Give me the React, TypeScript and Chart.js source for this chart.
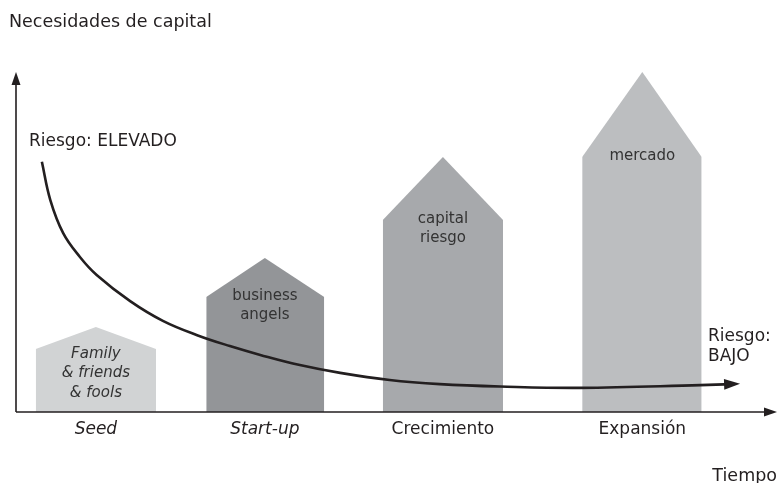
import React, { useEffect, useRef } from "react";
import { Chart, registerables } from "chart.js";
Chart.register(...registerables);

// Stages (categories) along the "Tiempo" axis (0..100)
const categories = ["Seed", "Start-up", "Crecimiento", "Expansión"];
const italicCategory = [true, true, false, false];
const barLeft = [2.6, 25.0, 48.2, 74.4];
const barRight = [18.4, 40.5, 64.0, 90.1];
const barCenter = [10.5, 32.7, 56.1, 82.3];
// "Necesidades de capital" (0..100)
const shoulderValue = [18.5, 33.8, 56.5, 75];
const peakValue = [25, 45.3, 75, 100];
const barColors = ["#d1d3d4", "#939598", "#a7a9ac", "#bcbec0"];
const barLabels = [
  ["Family", "& friends", "& fools"],
  ["business", "angels"],
  ["capital", "riesgo"],
  ["mercado"],
];
const italicBarLabel = [true, false, false, false];

// Risk curve
const riskX = [3.4, 4.5, 6.2, 8.4, 10.6, 15.0, 19.3, 23.8, 28.1, 32.1, 37.3, 42.6, 49.1, 55.7, 63.6, 74.1, 89.9, 94.1];
const riskY = [73.6, 62.4, 52.6, 45.6, 40.3, 32.6, 26.8, 22.6, 19.4, 16.8, 13.8, 11.5, 9.4, 8.2, 7.5, 7.1, 7.9, 8.2];

const FONT = "'DejaVu Sans', sans-serif";
const INK = "#231f20";

const overlay = {
  id: "overlay",
  afterDatasetsDraw(chart: any) {
    const ctx = chart.ctx;
    const xs = chart.scales.x;
    const ys = chart.scales.y;
    // Arrowhead on the risk curve
    const n = riskX.length;
    const tx = xs.getPixelForValue(riskX[n - 1]);
    const ty = ys.getPixelForValue(riskY[n - 1]);
    const px = xs.getPixelForValue(riskX[n - 2]);
    const py = ys.getPixelForValue(riskY[n - 2]);
    const ang = Math.atan2(ty - py, tx - px);
    ctx.save();
    ctx.fillStyle = INK;
    ctx.translate(tx + Math.cos(ang) * 8, ty + Math.sin(ang) * 8);
    ctx.rotate(ang);
    ctx.beginPath();
    ctx.moveTo(0, 0);
    ctx.lineTo(-16, -5.5);
    ctx.lineTo(-16, 5.5);
    ctx.closePath();
    ctx.fill();
    ctx.restore();
  },
  afterDraw(chart: any) {
    const ctx = chart.ctx;
    const xs = chart.scales.x;
    const ys = chart.scales.y;
    const x0 = xs.getPixelForValue(0);
    const y0 = ys.getPixelForValue(0);
    const yTop = ys.getPixelForValue(100);
    const xEnd = xs.getPixelForValue(100);
    ctx.save();
    // axes
    ctx.strokeStyle = INK;
    ctx.fillStyle = INK;
    ctx.lineWidth = 1.6;
    ctx.beginPath();
    ctx.moveTo(x0, y0);
    ctx.lineTo(x0, yTop + 8);
    ctx.moveTo(x0, y0);
    ctx.lineTo(xEnd - 8, y0);
    ctx.stroke();
    ctx.beginPath();
    ctx.moveTo(x0, yTop);
    ctx.lineTo(x0 - 4.5, yTop + 13);
    ctx.lineTo(x0 + 4.5, yTop + 13);
    ctx.closePath();
    ctx.fill();
    ctx.beginPath();
    ctx.moveTo(xEnd, y0);
    ctx.lineTo(xEnd - 13, y0 - 4.5);
    ctx.lineTo(xEnd - 13, y0 + 4.5);
    ctx.closePath();
    ctx.fill();

    // category labels
    ctx.textAlign = "center";
    ctx.textBaseline = "middle";
    categories.forEach((c, i) => {
      ctx.font = `${italicCategory[i] ? "italic " : ""}17px ${FONT}`;
      ctx.fillText(c, xs.getPixelForValue(barCenter[i]), y0 + 18);
    });

    // labels inside the houses
    ctx.fillStyle = "#333333";
    barLabels.forEach((lines, i) => {
      ctx.font = `${italicBarLabel[i] ? "italic " : ""}15px ${FONT}`;
      const cx = xs.getPixelForValue(barCenter[i]);
      const sy = ys.getPixelForValue(shoulderValue[i]) + (i === 0 ? 5 : -1);
      lines.forEach((l, k) => ctx.fillText(l, cx, sy + k * 19.5));
    });

    // annotations
    ctx.fillStyle = INK;
    ctx.textAlign = "left";
    ctx.font = `17px ${FONT}`;
    ctx.fillText("Riesgo: ELEVADO", 29, 142);
    ctx.fillText("Riesgo:", 708, 337);
    ctx.fillText("BAJO", 708, 357);
    ctx.font = `17.5px ${FONT}`;
    ctx.fillText("Necesidades de capital", 9, 22);
    ctx.textAlign = "right";
    ctx.fillText("Tiempo", 777, 476);
    ctx.restore();
  },
};

export default function App() {
  const ref = useRef<HTMLCanvasElement>(null);
  useEffect(() => {
    document.body.style.margin = "0";
    const houses = categories.map((c, i) => ({
      label: c,
      data: [
        { x: barLeft[i], y: shoulderValue[i] },
        { x: barCenter[i], y: peakValue[i] },
        { x: barRight[i], y: shoulderValue[i] },
      ],
      borderWidth: 0,
      borderColor: barColors[i],
      backgroundColor: barColors[i],
      fill: "origin",
      pointRadius: 0,
      tension: 0,
      order: 2,
    }));
    const curve = {
      label: "Riesgo",
      data: riskX.map((x, i) => ({ x, y: riskY[i] })),
      borderColor: INK,
      borderWidth: 2.6,
      pointRadius: 0,
      fill: false,
      tension: 0.4,
      order: 0,
    };
    const chart = new Chart(ref.current!, {
      type: "line",
      data: { datasets: [curve as any, ...houses] },
      options: {
        animation: false,
        responsive: false,
        events: [],
        layout: { padding: { left: 16, right: 4, top: 72, bottom: 71 } },
        plugins: { legend: { display: false }, tooltip: { enabled: false } },
        scales: {
          x: { type: "linear", min: 0, max: 100, display: false },
          y: { type: "linear", min: 0, max: 100, display: false },
        },
      },
      plugins: [overlay],
    });
    return () => chart.destroy();
  }, []);
  return <canvas ref={ref} width={781} height={483} style={{ display: "block" }} />;
}
